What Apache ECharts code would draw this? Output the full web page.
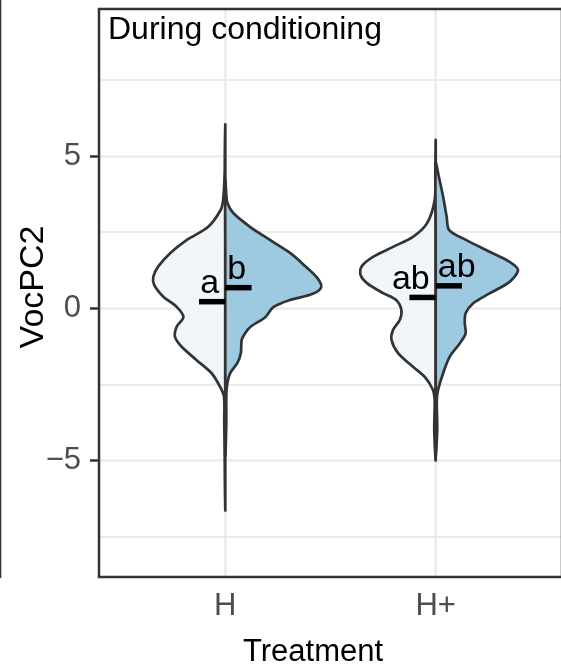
<!DOCTYPE html>
<html><head><meta charset="utf-8">
<script src="https://cdn.jsdelivr.net/npm/echarts@6/dist/echarts.min.js"></script>
<style>html,body{margin:0;padding:0;background:#fff}#c{width:561px;height:669px}</style>
</head><body><div id="c"></div>
<script>
// ---- data ----
const categories = ['H', 'H+'];
const catPositions = [1, 2];
const yTicks = [-5, 0, 5];
const yMinorTicks = [-7.5, -2.5, 2.5, 7.5];

// half-violin outlines: VocPC2 value and half width (x units)
const hLeftY  = [6.02, 5.20, 4.40, 3.56, 3.23, 2.68, 2.24, 1.81, 1.37, 1.04, 0.77, 0.38, 0.05, -0.28, -0.60, -0.93, -1.26, -1.70, -2.13, -2.57, -2.90, -3.67, -4.65, -5.64, -6.62];
const hLeftW  = [0, 0.002, 0.003, 0.010, 0.022, 0.081, 0.184, 0.262, 0.319, 0.342, 0.338, 0.294, 0.231, 0.199, 0.231, 0.239, 0.207, 0.136, 0.065, 0.025, 0.006, 0.005, 0.003, 0.002, 0];
const hRightY = [4.21, 3.72, 3.46, 3.13, 2.67, 2.24, 1.82, 1.36, 1.00, 0.70, 0.47, 0.27, 0.04, -0.29, -0.61, -0.81, -1.04, -1.47, -1.80, -2.12, -2.45, -2.85, -3.67, -4.33, -4.82];
const hRightW = [0, 0.005, 0.010, 0.038, 0.119, 0.214, 0.308, 0.384, 0.437, 0.456, 0.413, 0.304, 0.228, 0.190, 0.119, 0.095, 0.078, 0.074, 0.057, 0.024, 0.010, 0.005, 0.005, 0.003, 0];
const hpLeftY  = [5.52, 4.50, 3.56, 2.80, 2.35, 2.02, 1.69, 1.37, 1.09, 0.83, 0.50, 0.27, -0.06, -0.38, -0.71, -1.04, -1.47, -1.92, -2.25, -2.68, -3.01, -3.99, -4.98];
const hpLeftW  = [0, 0.002, 0.005, 0.041, 0.108, 0.203, 0.298, 0.353, 0.357, 0.327, 0.250, 0.187, 0.163, 0.171, 0.203, 0.210, 0.179, 0.108, 0.052, 0.013, 0.005, 0.007, 0];
const hpRightY = [4.77, 4.32, 3.67, 3.01, 2.57, 2.24, 1.86, 1.53, 1.26, 0.87, 0.49, 0.16, -0.16, -0.49, -0.82, -1.15, -1.59, -2.13, -2.68, -3.01, -3.99, -4.81];
const hpRightW = [0, 0.015, 0.035, 0.052, 0.064, 0.146, 0.256, 0.351, 0.391, 0.351, 0.256, 0.177, 0.142, 0.138, 0.142, 0.114, 0.066, 0.035, 0.011, 0.005, 0.007, 0];

const halfCategory = [1, 1, 2, 2];      // x position of each half
const halfSide = [-1, 1, -1, 1];        // left / right half
const medians = [0.22, 0.68, 0.36, 0.74];
const letters = ['a', 'b', 'ab', 'ab'];

// ---- styling ----
const FONT = '"Liberation Sans", Arial, Helvetica, sans-serif';
const GRID = {left: 99, top: 9, width: 463, height: 568};
const FILLS = {'-1': '#f1f6fb', '1': '#9ecae1'};
const profY = [hLeftY, hRightY, hpLeftY, hpRightY];
const profW = [hLeftW, hRightW, hpLeftW, hpRightW];

const chart = echarts.init(document.getElementById('c'), null, {renderer: 'canvas'});

function renderViolin(params, api) {
  const k = params.dataIndex;
  const cx = api.value(0);
  const s = halfSide[k];
  const ys = profY[k], ws = profW[k];
  const yTop = ys[0], yBot = ys[ys.length - 1];
  const pts = [];
  [0.25, 0.5, 0.75].forEach(f => pts.push(api.coord([cx, yBot + (yTop - yBot) * f])));
  for (let i = 0; i < ys.length; i++) pts.push(api.coord([cx + s * ws[i], ys[i]]));
  return {
    type: 'polygon',
    shape: {points: pts, smooth: 0.3},
    style: {fill: FILLS[String(s)], stroke: '#333333', lineWidth: 2.7, lineJoin: 'round'}
  };
}

function renderMedian(params, api) {
  const k = params.dataIndex;
  const cx = api.value(0), m = api.value(1);
  const s = halfSide[k];
  const p0 = api.coord([cx, m]);
  const p1 = api.coord([cx + s * 0.125, m]);
  return {
    type: 'group',
    children: [
      {type: 'line', shape: {x1: p0[0], y1: p0[1], x2: p1[0], y2: p1[1]},
       style: {stroke: '#000', lineWidth: 5.5, lineCap: 'butt'}},
      {type: 'text', x: p0[0] + (s < 0 ? -6 : 2), y: p0[1] - 1,
       style: {text: letters[k], fill: '#000', fontSize: 34, fontFamily: FONT,
               align: s < 0 ? 'right' : 'left', verticalAlign: 'bottom'}}
    ]
  };
}

const seriesData = halfCategory.map((c, i) => [c, medians[i]]);
const tickStyle = {color: '#333333', width: 2.5};

const option = {
  animation: false,
  grid: Object.assign({show: false, containLabel: false, outerBoundsMode: 'none'}, GRID),
  xAxis: {
    type: 'value', min: 0.4, max: 2.6,
    axisLine: {show: false},
    axisTick: {show: true, customValues: catPositions, length: 9, lineStyle: tickStyle},
    axisLabel: {customValues: catPositions, formatter: v => categories[Math.round(v) - 1],
                margin: 14, color: '#4d4d4d', fontSize: 31, fontFamily: FONT},
    splitLine: {show: true, lineStyle: {color: '#ebebeb', width: 2.5}}
  },
  yAxis: [
    {
      type: 'value', min: -8.82, max: 9.83,
      axisLine: {show: false},
      axisTick: {show: true, customValues: yTicks, length: 9, lineStyle: tickStyle},
      axisLabel: {customValues: yTicks, formatter: v => (v < 0 ? '\u2212' + Math.abs(v) : String(v)),
                  margin: 18, color: '#4d4d4d', fontSize: 31, fontFamily: FONT},
      splitLine: {show: true, lineStyle: {color: '#ebebeb', width: 2.5}}
    },
    {
      type: 'value', min: -8.82, max: 9.83, position: 'left',
      axisLine: {show: false},
      axisTick: {show: false, customValues: yMinorTicks},
      axisLabel: {show: false, customValues: yMinorTicks},
      splitLine: {show: true, lineStyle: {color: '#ebebeb', width: 1.8}}
    }
  ],
  graphic: [
    {type: 'rect', z: 50, silent: true,
     shape: {x: GRID.left, y: GRID.top, width: GRID.width, height: GRID.height},
     style: {fill: 'none', stroke: '#333333', lineWidth: 2.5}},
    {type: 'line', z: 50, silent: true, shape: {x1: 0, y1: 0, x2: 0, y2: 578},
     style: {stroke: '#333333', lineWidth: 2.6}},
    {type: 'text', z: 50, left: 108, top: 14,
     style: {text: 'During conditioning', fill: '#000', fontSize: 32, fontFamily: FONT}},
    {type: 'text', z: 50, left: 243, top: 637,
     style: {text: 'Treatment', fill: '#000', fontSize: 31, fontFamily: FONT}},
    {type: 'text', z: 50, x: 34, y: 287, rotation: Math.PI / 2,
     style: {text: 'VocPC2', fill: '#000', fontSize: 34, fontFamily: FONT,
             align: 'center', verticalAlign: 'middle'}}
  ],
  series: [
    {type: 'custom', name: 'violins', renderItem: renderViolin, data: seriesData, z: 2, clip: false},
    {type: 'custom', name: 'medians', renderItem: renderMedian, data: seriesData, z: 3, clip: false}
  ]
};
chart.setOption(option);
</script>
</body></html>
